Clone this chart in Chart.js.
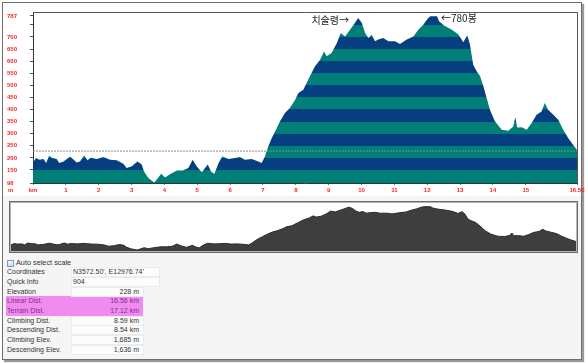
<!DOCTYPE html>
<html>
<head>
<meta charset="utf-8">
<script src="https://cdn.jsdelivr.net/npm/chart.js@4/dist/chart.umd.min.js"></script>
<style>
body { margin:0; width:588px; height:363px; background:#fff; position:relative; overflow:hidden;
       font-family:"Liberation Sans", Arial, sans-serif; }
#win { position:absolute; left:2px; top:2px; width:578px; height:356px; border:1px solid #6e6e6e;
       background:#f5f5f5; box-shadow:2px 2px 1px #9a9a9a; }
#topPane { position:absolute; left:3px; top:3px; width:578px; height:193px; background:#fff; }
#mainWrap { position:absolute; left:0; top:0; width:588px; height:200px; }
#ovFrame { position:absolute; left:9px; top:201px; width:567px; height:50px; border:1px solid #6a6a6a;
           box-shadow:inset 0 0 0 1px #b5b5b5; background:#fff; }
#ovWrap { position:absolute; left:11px; top:203px; width:565px; height:48px; }
.unit { position:absolute; color:#f22; font:bold 6px "Liberation Sans", Arial, sans-serif; }
#info { position:absolute; left:0; top:0; font-size:7px; color:#333; }
.chk { position:absolute; left:7px; top:260px; width:5px; height:5px; border:1px solid #7d9cc0;
       background:linear-gradient(#f4f8fc, #c9d9ec); }
.lbl { position:absolute; left:7px; height:9px; line-height:9px; white-space:nowrap; }
.fld { position:absolute; left:71px; height:8px; line-height:8px; border:1px solid #ececec;
       background:#fcfcfc; white-space:nowrap; }
.hl { position:absolute; left:6px; top:296px; width:137px; height:20px; background:#f08cf0; }
</style>
</head>
<body>
<div id="win"></div>
<div id="topPane"></div>
<div id="mainWrap"><canvas id="profileChart"></canvas></div>
<span class="unit" style="left:8px; top:187px;">m</span>
<div id="ovFrame"></div>
<div id="ovWrap"><canvas id="overviewChart"></canvas></div>
<div class="hl"></div>
<div class="chk"></div>
<div class="lbl" style="left:16px; top:258px; font-size:7.3px; color:#333;">Auto select scale</div>
<div id="info"></div>

<script>
// distance along the route (km) and elevation (m)
const distKm = [
    0.00, 0.09, 0.19, 0.32, 0.40, 0.49, 0.59, 0.72, 0.80, 0.93,
    1.13, 1.33, 1.43, 1.56, 1.66, 1.76, 1.94, 2.14, 2.25, 2.35,
    2.55, 2.75, 2.85, 3.01, 3.18, 3.31, 3.38, 3.51, 3.69, 3.77,
    3.90, 4.02, 4.17, 4.38, 4.56, 4.73, 4.86, 4.98, 5.14, 5.32,
    5.42, 5.52, 5.64, 5.76, 5.95, 6.15, 6.30, 6.45, 6.66, 6.86,
    6.96, 7.06, 7.16, 7.27, 7.37, 7.52, 7.67, 7.82, 7.98, 8.08,
    8.23, 8.28, 8.43, 8.58, 8.74, 8.86, 8.94, 9.09, 9.25, 9.37,
    9.50, 9.65, 9.80, 9.90, 10.01, 10.11, 10.21, 10.31, 10.41, 10.51,
    10.66, 10.82, 11.02, 11.17, 11.38, 11.58, 11.73, 11.88, 12.03, 12.10,
    12.30, 12.36, 12.50, 12.75, 12.95, 13.10, 13.22, 13.30, 13.40, 13.51,
    13.61, 13.71, 13.81, 13.91, 14.06, 14.27, 14.47, 14.62, 14.68, 14.74,
    14.88, 15.03, 15.18, 15.33, 15.48, 15.58, 15.68, 15.84, 15.99, 16.14,
    16.29, 16.40, 16.56
];
const elevM = [
    179, 199, 192, 195, 179, 209, 199, 195, 179, 185,
    206, 181, 185, 210, 190, 200, 195, 203, 197, 192,
    190, 176, 158, 165, 185, 172, 144, 117, 98, 110,
    134, 119, 132, 148, 148, 158, 192, 165, 140, 172,
    144, 133, 176, 206, 195, 199, 203, 192, 195, 185,
    179, 206, 247, 282, 309, 351, 385, 406, 440, 468,
    482, 496, 537, 578, 606, 640, 620, 634, 675, 716,
    702, 730, 758, 778, 758, 716, 696, 709, 682, 689,
    696, 682, 682, 671, 689, 702, 730, 750, 778, 785,
    785, 765, 748, 730, 710, 678, 707, 670, 585, 557,
    537, 496, 447, 399, 351, 316, 312, 330, 368, 325,
    326, 316, 344, 378, 392, 427, 399, 378, 358, 316,
    282, 261, 232
];

const cursorElev = 228;
const kmTicks = [0, 1, 2, 3, 4, 5, 6, 7, 8, 9, 10, 11, 12, 13, 14, 15, 16.56];
const elevTicks = [96, 150, 200, 250, 300, 350, 400, 450, 500, 550, 600, 650, 700, 750, 787];
const elevHiddenTicks = [750];
const bandEdges = [96, 150, 200, 250, 300, 350, 400, 450, 500, 550, 600, 650, 700, 750, 803];
const bandColors = ["#007f78", "#053f80"];

const notes = [
    { text: "치술령→", km: 9.62, elev: 771, align: "right" },
    { text: "←780봉", km: 12.42, elev: 778, align: "left" }
];

const infoLabels = ["Coordinates", "Quick Info", "Elevation", "Linear Dist.", "Terrain Dist.",
    "Climbing Dist.", "Descending Dist.", "Climbing Elev.", "Descending Elev."];
const infoValues = ["N3572.50', E12976.74'", "904", "228 m", "16.56 km", "17.12 km",
    "8.59 km", "8.54 km", "1,685 m", "1,636 m"];

const profilePoints = distKm.map((d, i) => ({ x: d, y: elevM[i] }));

function stripedFill(context) {
    const chart = context.chart;
    const area = chart.chartArea;
    if (!area) return bandColors[0];
    const yScale = chart.scales.y;
    const g = chart.ctx.createLinearGradient(0, area.bottom, 0, area.top);
    const span = area.bottom - area.top;
    for (let i = 0; i < bandEdges.length - 1; i++) {
        let t0 = (area.bottom - yScale.getPixelForValue(bandEdges[i])) / span;
        let t1 = (area.bottom - yScale.getPixelForValue(bandEdges[i + 1])) / span;
        t0 = Math.min(1, Math.max(0, t0));
        t1 = Math.min(1, Math.max(0, t1));
        const c = bandColors[i % 2];
        g.addColorStop(t0, c);
        g.addColorStop(t1, c);
    }
    return g;
}

const framePlugin = {
    id: "frame",
    afterDatasetsDraw(chart) {
        const { ctx, chartArea: a } = chart;
        ctx.save();
        ctx.strokeStyle = "#555";
        ctx.lineWidth = 1;
        ctx.beginPath();
        ctx.moveTo(a.left, a.top + 0.5);
        ctx.lineTo(a.right + 0.5, a.top + 0.5);
        ctx.lineTo(a.right + 0.5, a.bottom);
        ctx.stroke();
        ctx.restore();
    }
};

const notesPlugin = {
    id: "notes",
    afterDraw(chart) {
        const { ctx, scales } = chart;
        ctx.save();
        ctx.font = '10px "Noto Sans CJK KR", sans-serif';
        ctx.fillStyle = "#222";
        ctx.textBaseline = "middle";
        notes.forEach(n => {
            ctx.textAlign = n.align;
            ctx.fillText(n.text, scales.x.getPixelForValue(n.km), scales.y.getPixelForValue(n.elev));
        });
        ctx.restore();
    }
};

new Chart(document.getElementById("profileChart"), {
    type: "line",
    data: {
        datasets: [
            {
                data: [{ x: 0, y: cursorElev }, { x: 16.56, y: cursorElev }],
                borderColor: "#8a8a8a",
                borderWidth: 1,
                borderDash: [2, 1],
                pointRadius: 0,
                fill: false,
                order: 0
            },
            {
                data: profilePoints,
                borderWidth: 0,
                borderColor: "rgba(0,0,0,0)",
                backgroundColor: stripedFill,
                pointRadius: 0,
                fill: "start",
                tension: 0,
                order: 1
            }
        ]
    },
    options: {
        responsive: true,
        maintainAspectRatio: false,
        animation: false,
        layout: { padding: { left: 7, right: 11, top: 12, bottom: 3 } },
        plugins: { legend: { display: false }, tooltip: { enabled: false } },
        scales: {
            x: {
                type: "linear",
                min: 0,
                max: 16.56,
                afterBuildTicks: s => { s.ticks = kmTicks.map(v => ({ value: v })); },
                afterFit: s => { s.height = 14; },
                ticks: {
                    autoSkip: false,
                    maxRotation: 0,
                    padding: 2,
                    color: "#f22",
                    font: { family: "Liberation Sans", size: 6, weight: "bold" },
                    callback: v => v === 0 ? "km" : String(v)
                },
                grid: { drawOnChartArea: false, tickLength: 2, color: "#4a8a4a" },
                border: { color: "#333", width: 1 }
            },
            y: {
                min: 96,
                max: 803,
                afterBuildTicks: s => { s.ticks = elevTicks.map(v => ({ value: v })); },
                afterFit: s => { s.width = 26; },
                ticks: {
                    autoSkip: false,
                    crossAlign: "far",
                    color: "#f22",
                    font: { family: "Liberation Sans", size: 6, weight: "bold" },
                    callback: v => elevHiddenTicks.includes(v) ? "" : String(v)
                },
                grid: { drawOnChartArea: false, tickLength: 3, color: "#3d5f3d" },
                border: { color: "#333", width: 1 }
            }
        }
    },
    plugins: [framePlugin, notesPlugin]
});

new Chart(document.getElementById("overviewChart"), {
    type: "line",
    data: {
        datasets: [{
            data: profilePoints,
            borderColor: "#2b2b2b",
            borderWidth: 1,
            backgroundColor: "#3e3e3e",
            pointRadius: 0,
            fill: "start",
            tension: 0
        }]
    },
    options: {
        responsive: true,
        maintainAspectRatio: false,
        animation: false,
        layout: { padding: 0 },
        plugins: { legend: { display: false }, tooltip: { enabled: false } },
        scales: {
            x: { type: "linear", min: 0, max: 16.56, display: false },
            y: { min: 82, max: 844, display: false }
        }
    }
});

// info panel
const info = document.getElementById("info");
infoLabels.forEach((label, i) => {
    const cy = 271.7 + i * 9.67;
    const hl = i === 3 || i === 4;
    const l = document.createElement("div");
    l.className = "lbl";
    l.style.top = (cy - 4.5) + "px";
    l.style.color = hl ? "#8a2a8a" : "#333";
    l.textContent = label;
    info.appendChild(l);

    const f = document.createElement("div");
    f.className = "fld";
    f.style.top = (cy - 4.5) + "px";
    if (i < 2) {
        f.style.width = "86px";
        f.style.textAlign = "left";
        f.style.paddingLeft = "1px";
    } else {
        f.style.width = "67px";
        f.style.textAlign = "right";
        f.style.paddingRight = "4px";
    }
    if (hl) {
        f.style.background = "transparent";
        f.style.borderColor = "transparent";
        f.style.color = "#8a2a8a";
    }
    f.textContent = infoValues[i];
    info.appendChild(f);
});
</script>
</body>
</html>
